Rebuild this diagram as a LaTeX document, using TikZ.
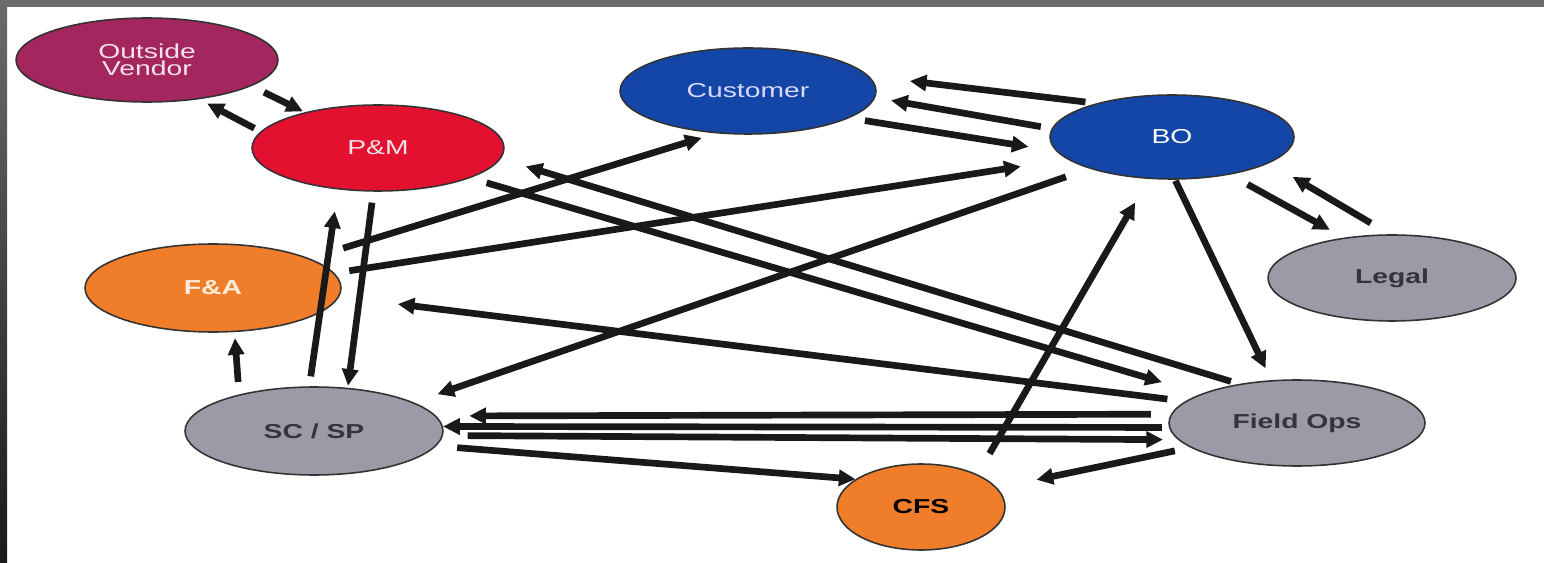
\documentclass[tikz,border=0pt]{standalone}
\usepackage{fontspec}
\newfontfamily\lblfont[FakeStretch=1.4]{Liberation Sans}
\usetikzlibrary{arrows.meta, shapes.geometric}
\definecolor{vendorpurple}{HTML}{A3265E}
\definecolor{pmred}{HTML}{E3112F}
\definecolor{orgblue}{HTML}{1346A6}
\definecolor{faorange}{HTML}{F07D2A}
\definecolor{opsgray}{HTML}{9A9BA6}
\definecolor{darklabel}{HTML}{34343C}
\definecolor{lightlabel}{HTML}{F4E2EA}
\definecolor{framegray}{HTML}{6B6B6B}

\begin{document}
\begin{tikzpicture}[x=0.02cm, y=-0.02cm,
    unit/.style={ellipse, draw=black!80, line width=0.9pt, inner sep=0pt, align=center,
      font=\lblfont\fontsize{11.5}{10}\selectfont,
      minimum width=5.12cm, minimum height=1.72cm},
    flow/.style={-{Triangle[length=9.5pt,width=9pt]}, line width=3.8pt, black!90}]
    % page and frame
    \fill[white] (0,0) rectangle (1544,563);
    \fill[framegray] (0,0) rectangle (1544,7);
    \shade[top color=framegray, bottom color=black!90] (0,0) rectangle (7,563);
    \useasboundingbox (0,0) rectangle (1544,563);
    % units
    \node[unit, fill=vendorpurple, text=lightlabel, minimum width=5.24cm, minimum height=1.68cm]
      (vendor) at (147,60) {Outside\\Vendor};
    \node[unit, fill=pmred, text=lightlabel, minimum width=5.04cm] (pm) at (378,148) {P\&M};
    \node[unit, fill=orgblue, text=white!85!blue] (customer) at (748,91) {Customer};
    \node[unit, fill=orgblue, text=white, minimum width=4.88cm, minimum height=1.68cm]
      (bo) at (1172,137) {BO};
    \node[unit, fill=opsgray, text=darklabel, minimum width=4.96cm, font=\lblfont\bfseries\fontsize{11.5}{10}\selectfont]
      (legal) at (1392,278) {Legal};
    \node[unit, fill=faorange, text=white!85!orange, minimum height=1.76cm, font=\lblfont\bfseries\fontsize{11.5}{10}\selectfont]
      (fa) at (213,288) {F\&A};
    \node[unit, fill=opsgray, text=darklabel, minimum width=5.16cm, minimum height=1.76cm, font=\lblfont\bfseries\fontsize{11.5}{10}\selectfont]
      (scsp) at (314,431) {SC / SP};
    \node[unit, fill=opsgray, text=darklabel, font=\lblfont\bfseries\fontsize{11.5}{10}\selectfont]
      (fieldops) at (1297,423) {Field Ops};
    \node[unit, fill=faorange, text=black, minimum width=3.36cm, font=\lblfont\bfseries\fontsize{11.5}{10}\selectfont]
      (cfs) at (921,507) {CFS};
    % vendor loop
    \draw[flow, shorten <=0.28cm, shorten >=0.04cm] (vendor.-14.5) -- (pm.154.4);
    \draw[flow, shorten <=0.14cm, shorten >=0.18cm] (pm.172.7) -- (vendor.-37.2);
    % customer and BO
    \draw[flow, shorten <=0.22cm, shorten >=0.82cm] (bo.156.5) -- (customer.7.5);
    \draw[flow, shorten <=0.22cm, shorten >=0.32cm] (bo.176) -- (customer.-3.6);
    \draw[flow, shorten <=0.32cm, shorten >=0.56cm] (customer.-15.1) -- (bo.187.3);
    \draw[flow, shorten <=0.30cm, shorten >=0.94cm] (fa.7.65) -- (bo.192.65);
    \draw[flow, shorten <=0.70cm, shorten >=0.30cm] (fa.17.9) -- (customer.233.5);
    % long diagonals
    \draw[flow, shorten <=0.34cm, shorten >=0.82cm] (pm.-18.1) -- (fieldops.163.5);
    \draw[flow, shorten <=0.17cm, shorten >=0.52cm] (fieldops.146.5) -- (pm.-5.8);
    \draw[flow, shorten <=0.36cm, shorten >=1.18cm] (fieldops.169) -- (fa.-4.35);
    \draw[flow, shorten <=0.50cm, shorten >=0.50cm] (bo.201) -- (scsp.16.6);
    \draw[flow, shorten <=0.48cm, shorten >=0.54cm] (cfs.30.6) -- (bo.241.7);
    % BO, legal, field ops
    \draw[flow, shorten <=0.02cm, shorten >=0.26cm] (bo.-86) -- (fieldops.121.1);
    \draw[flow, shorten <=0.40cm, shorten >=0.32cm] (bo.-33.3) -- (legal.140.2);
    \draw[flow, shorten <=0.44cm, shorten >=0.54cm] (legal.93.5) -- (bo.-15.4);
    % left column
    \draw[flow, shorten <=0.25cm, shorten >=0.12cm] (scsp.154.8) -- (fa.-64.9);
    \draw[flow, shorten <=0.20cm, shorten >=0.44cm] (scsp.96.3) -- (pm.226);
    \draw[flow, shorten <=0.22cm, shorten >=0.04cm] (pm.264.7) -- (scsp.52.3);
    % SC / SP and field ops
    \draw[flow, shorten <=0.40cm, shorten >=0.66cm] (fieldops.176.9) -- (scsp.7.0);
    \draw[flow, shorten <=0.14cm] (fieldops.182.1) -- (scsp.2.7);
    \draw[flow, shorten <=0.49cm, shorten >=0.30cm] (scsp.-2.6) -- (fieldops.188.6);
    \draw[flow, shorten <=0.42cm] (scsp.-7.7) -- (cfs.157.7);
    \draw[flow, shorten <=0.32cm, shorten >=0.80cm] (fieldops.193.7) -- (cfs.14.3);
\end{tikzpicture}
\end{document}
